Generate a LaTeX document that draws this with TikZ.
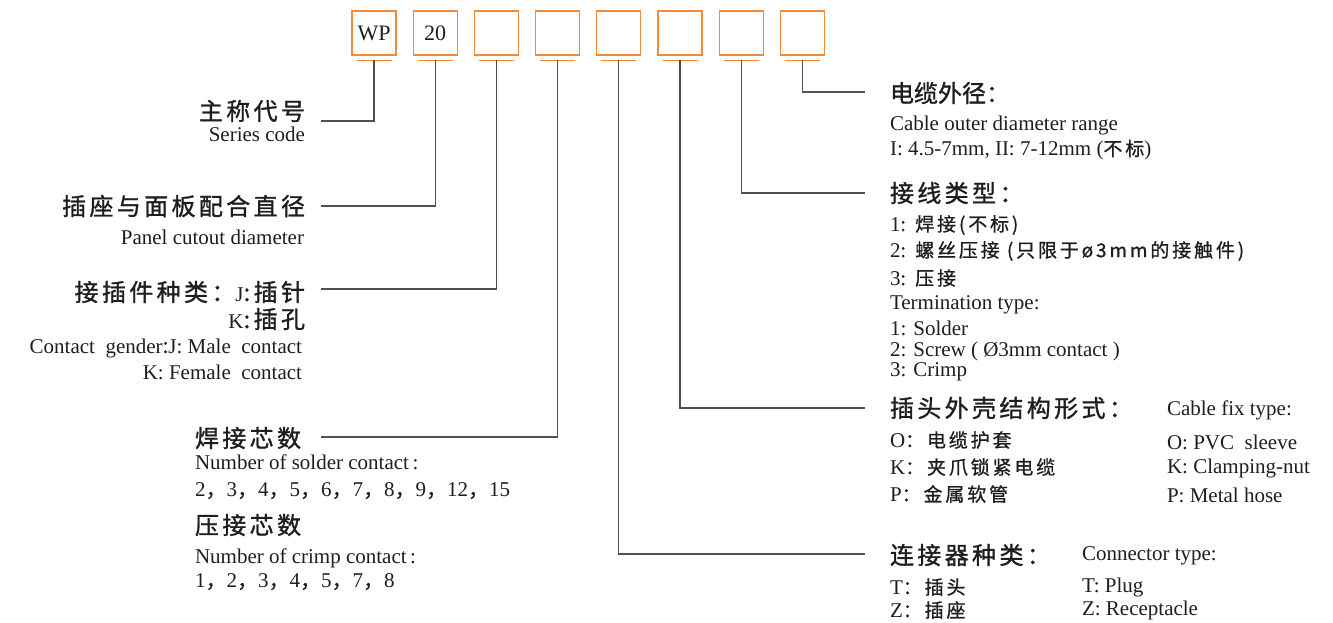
\documentclass[tikz,border=0pt]{standalone}
\usepackage{fontspec}
\setmainfont{Liberation Serif}
\newfontfamily\cjk[FakeBold=0.8]{Noto Sans CJK SC}
\newfontfamily\cjkh[LetterSpace=14,FakeBold=1.2]{Noto Sans CJK SC}
\newfontfamily\cjkn[LetterSpace=0,FakeBold=1.2]{Noto Sans CJK SC}
\newfontfamily\cjkr[LetterSpace=15,FakeBold=0.9]{Noto Sans CJK SC}
\newcommand{\hdf}{\fontsize{24}{27}\cjkh}
\newcommand{\hdn}{\fontsize{24}{27}\cjkn}
\newcommand{\ltf}{\fontsize{21}{24}\rmfamily}
\newcommand{\rwf}{\fontsize{19}{22}\cjkr}
\newcommand{\cm}{{\cjk ，}}
\definecolor{boxor}{RGB}{243,138,58}
\definecolor{congray}{RGB}{80,80,80}
\definecolor{txt}{RGB}{30,30,30}
\begin{document}
\begin{tikzpicture}[x=1pt,y=-1pt,
  box/.style={draw=boxor, line width=1.3pt, minimum width=44pt, minimum height=44pt, inner sep=0pt, font=\fontsize{22}{24}\rmfamily, text=txt},
  con/.style={draw=congray, line width=1.3pt},
  ul/.style={draw=boxor, line width=1.2pt},
  lbl/.style={inner sep=0pt, outer sep=0pt, text=txt},
  lw/.style={lbl, anchor=west},
  le/.style={lbl, anchor=east}]
\useasboundingbox (0,0) rectangle (1333,622);
\foreach \i/\t in {1/WP,2/20,3/,4/,5/,6/,7/,8/}{
  \node[box] (b\i) at ({374+61.2*(\i-1)},33) {\t};
  \draw[ul] ([xshift=-17.5pt,yshift=-4.5pt]b\i.south) -- ++(35,0);
  \coordinate (u\i) at ([yshift=-4.5pt]b\i.south);
}
% line ends
\coordinate (e1) at (321,121);
\coordinate (e2) at (321,206);
\coordinate (e3) at (321,289);
\coordinate (e4) at (321,437);
\coordinate (e5) at (865,554);
\coordinate (e6) at (865,408);
\coordinate (e7) at (865,193);
\coordinate (e8) at (865,92);
\foreach \i in {1,...,8}{\draw[con] (u\i) |- (e\i);}
% left labels
\node[le,font=\hdf] (t1) at (305,111) {主称代号};
\node[le,font=\ltf] (t1e) at (305,134) {Series code};
\node[le,font=\hdf] (t2) at (305,206) {插座与面板配合直径};
\node[le,font=\ltf] (t2e) at (304,237) {Panel cutout diameter};
\node[le] (t3) at (305,292) {\hdf 接插件种类：{\ltf J}:插针};
\node[le] (t3b) at (305,319) {{\ltf K}\hdf :插孔};
\node[le,font=\ltf] (t3e) at (302,348) {Contact\ \ gender{\cjk :}J: Male\ \ contact};
\node[le,font=\ltf] (t3f) at (302,372) {K: Female\ \ contact};
\node[lw,font=\hdf] (t4) at (195,438) {焊接芯数};
\node[lw,font=\ltf] (t4a) at (195,462) {Number of solder contact\,:};
\node[lw,font=\ltf] (t4b) at (195,491) {2\cm3\cm4\cm5\cm6\cm7\cm8\cm9\cm12\cm15};
\node[lw,font=\hdf] (t4c) at (195,525) {压接芯数};
\node[lw,font=\ltf] (t4d) at (195,558) {Number of crimp contact\,:};
\node[lw,font=\ltf] (t4e) at (195,582) {1\cm2\cm3\cm4\cm5\cm7\cm8};
% right labels
\node[lw,font=\hdn] (r8) at (890,93) {电缆外径：};
\node[lw,font=\ltf] (r8a) at (890,125) {Cable outer diameter range};
\node[lw,font=\ltf] (r8b) at (890,150) {I: 4.5-7mm, II: 7-12mm ({\rwf 不标})};
\node[lw,font=\hdf] (r7) at (890,193) {接线类型：};
\node[lw] (r7a) at (890,225) {{\ltf 1}\rwf : 焊接(不标)};
\node[lw] (r7b) at (890,251) {{\ltf 2}\rwf : 螺丝压接 (只限于ø3mm的接触件)};
\node[lw] (r7c) at (890,278) {{\ltf 3}\rwf : 压接};
\node[lw,font=\ltf] (r7d) at (890,305) {Termination type:};
\node[lw,font=\ltf] (r7e) at (890,328) {1: Solder};
\node[lw,font=\ltf] (r7f) at (890,351) {2: Screw ( Ø3mm contact )};
\node[lw,font=\ltf] (r7g) at (890,372) {3: Crimp};
\node[lw,font=\hdf] (r6) at (890,408) {插头外壳结构形式：};
\node[lw,font=\ltf] (r6e) at (1167,410) {Cable fix type:};
\node[lw] (r6a) at (890,440) {{\ltf O}\rwf ：电缆护套};
\node[lw,font=\ltf] (r6ae) at (1167,442) {O: PVC\ \ sleeve};
\node[lw] (r6b) at (890,467) {{\ltf K}\rwf ：夹爪锁紧电缆};
\node[lw,font=\ltf] (r6be) at (1167,468) {K: Clamping-nut};
\node[lw] (r6c) at (890,494) {{\ltf P}\rwf ：金属软管};
\node[lw,font=\ltf] (r6ce) at (1167,495) {P: Metal hose};
\node[lw,font=\hdf] (r5) at (890,555) {连接器种类：};
\node[lw,font=\ltf] (r5e) at (1082,556) {Connector type:};
\node[lw] (r5a) at (890,587) {{\ltf T}\rwf ：插头};
\node[lw,font=\ltf] (r5ae) at (1082,587) {T: Plug};
\node[lw] (r5b) at (890,610) {{\ltf Z}\rwf ：插座};
\node[lw,font=\ltf] (r5be) at (1082,610) {Z: Receptacle};
\end{tikzpicture}
\end{document}
